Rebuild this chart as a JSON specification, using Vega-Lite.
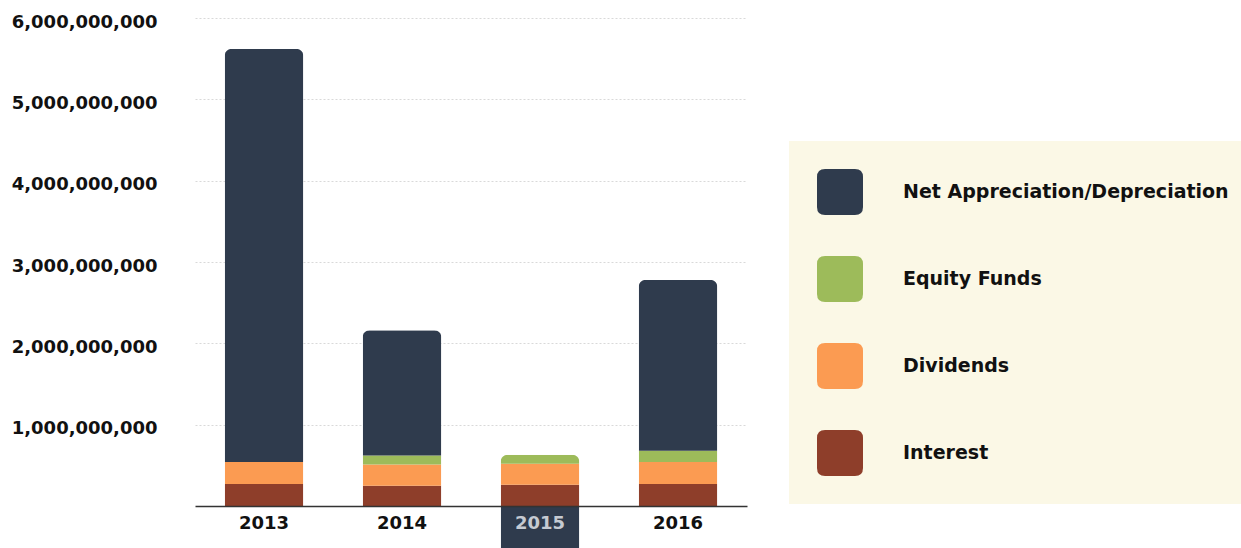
{
  "$schema": "https://vega.github.io/schema/vega-lite/v6.json",
  "width": 552,
  "height": 488,
  "autosize": {"type": "none"},
  "padding": {"left": 195, "top": 18, "right": 494, "bottom": 42},
  "background": "white",
  "data": {
    "values": [
      {"year": "2013", "series": "Interest", "rank": 1, "amount": 270000000},
      {"year": "2013", "series": "Dividends", "rank": 2, "amount": 270000000},
      {"year": "2013", "series": "Equity Funds", "rank": 3, "amount": 0},
      {"year": "2013", "series": "Net Appreciation/Depreciation", "rank": 4, "amount": 5080000000},
      {"year": "2014", "series": "Interest", "rank": 1, "amount": 250000000},
      {"year": "2014", "series": "Dividends", "rank": 2, "amount": 260000000},
      {"year": "2014", "series": "Equity Funds", "rank": 3, "amount": 110000000},
      {"year": "2014", "series": "Net Appreciation/Depreciation", "rank": 4, "amount": 1540000000},
      {"year": "2015", "series": "Interest", "rank": 1, "amount": 260000000},
      {"year": "2015", "series": "Dividends", "rank": 2, "amount": 260000000},
      {"year": "2015", "series": "Equity Funds", "rank": 3, "amount": 110000000},
      {"year": "2015", "series": "Net Appreciation/Depreciation", "rank": 4, "amount": -600000000},
      {"year": "2016", "series": "Interest", "rank": 1, "amount": 270000000},
      {"year": "2016", "series": "Dividends", "rank": 2, "amount": 270000000},
      {"year": "2016", "series": "Equity Funds", "rank": 3, "amount": 140000000},
      {"year": "2016", "series": "Net Appreciation/Depreciation", "rank": 4, "amount": 2100000000}
    ]
  },
  "mark": {"type": "bar", "cornerRadiusTopLeft": 7, "cornerRadiusTopRight": 7},
  "encoding": {
    "x": {
      "field": "year",
      "type": "nominal",
      "scale": {"paddingInner": 0.43, "paddingOuter": 0.215},
      "axis": {
        "title": null,
        "labelAngle": 0,
        "labelFont": "DejaVu Sans",
        "labelFontWeight": "bold",
        "labelFontSize": 18,
        "labelColor": {"condition": {"test": "datum.value === '2015'", "value": "#c5cad2"}, "value": "#111111"},
        "ticks": false,
        "domainColor": "#333333",
        "domainWidth": 1.5,
        "labelPadding": 8,
        "zindex": 1
      }
    },
    "y": {
      "field": "amount",
      "type": "quantitative",
      "stack": "zero",
      "scale": {"domain": [0, 6000000000], "nice": false},
      "axis": {
        "title": null,
        "values": [1000000000, 2000000000, 3000000000, 4000000000, 5000000000, 6000000000],
        "format": ",d",
        "labelFont": "DejaVu Sans",
        "labelFontWeight": "bold",
        "labelFontSize": 18,
        "labelColor": "#111111",
        "ticks": false,
        "domain": false,
        "labelPadding": 38,
        "labelOffset": 4,
        "gridColor": "#d9d9d9",
        "gridDash": [2, 2],
        "gridWidth": 1
      }
    },
    "color": {
      "field": "series",
      "type": "nominal",
      "scale": {
        "domain": ["Net Appreciation/Depreciation", "Equity Funds", "Dividends", "Interest"],
        "range": ["#2f3b4d", "#9dbb5a", "#fb9b52", "#8e3e2a"]
      },
      "legend": {
        "title": null,
        "orient": "none",
        "legendX": 594,
        "legendY": 123,
        "padding": 28,
        "fillColor": "#fbf8e6",
        "symbolType": "M-0.65,-1 L0.65,-1 Q1,-1 1,-0.65 L1,0.65 Q1,1 0.65,1 L-0.65,1 Q-1,1 -1,0.65 L-1,-0.65 Q-1,-1 -0.65,-1 Z",
        "symbolSize": 2116,
        "symbolStrokeWidth": 0,
        "symbolOpacity": 1,
        "labelFont": "DejaVu Sans",
        "labelFontWeight": "bold",
        "labelFontSize": 19,
        "labelColor": "#111111",
        "labelOffset": 40,
        "labelLimit": 400,
        "rowPadding": 41
      }
    },
    "order": {"field": "rank", "type": "quantitative"}
  },
  "config": {"view": {"stroke": null}}
}
